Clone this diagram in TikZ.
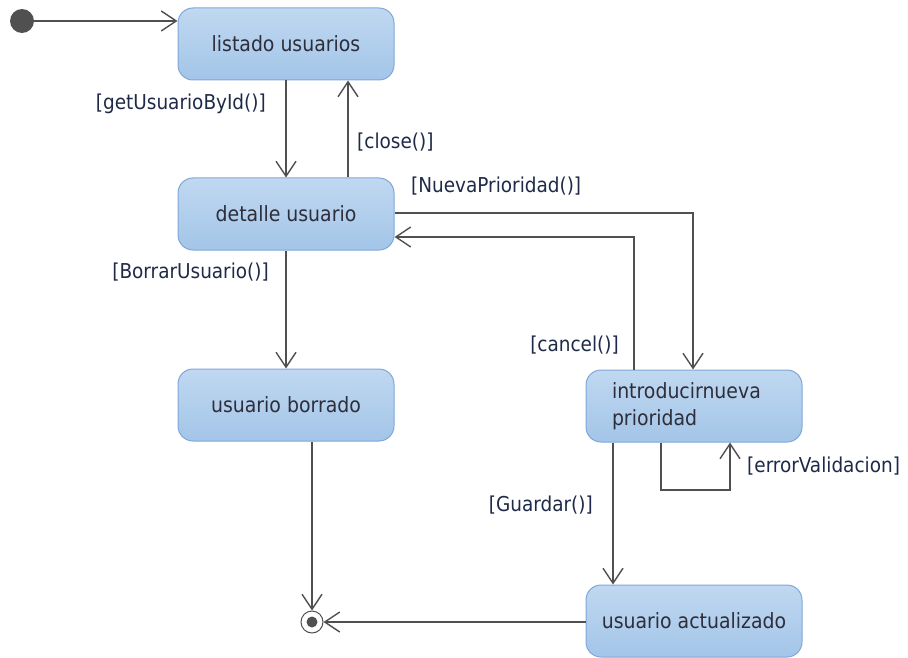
\documentclass[tikz,border=0pt]{standalone}
\usepackage{fontspec}
\setmainfont{DejaVu Sans Condensed}
\usetikzlibrary{arrows.meta}
\definecolor{boxtop}{HTML}{C0D8F1}
\definecolor{boxbot}{HTML}{A3C5E8}
\definecolor{boxline}{HTML}{7FA8D8}
\definecolor{wire}{HTML}{505050}
\definecolor{guard}{HTML}{1E2A48}
\definecolor{statetext}{HTML}{2E2E3A}
\begin{document}
\begin{tikzpicture}[x=1pt,y=-1pt,
  state/.style={draw=boxline,line width=1pt,top color=boxtop,bottom color=boxbot,
    rounded corners=15pt,minimum width=216pt,minimum height=72pt,
    text=statetext,font=\fontsize{21}{27}\selectfont,inner sep=0pt},
  trans/.style={draw=wire,line width=1.8pt,
    -{Straight Barb[length=15pt,width=20pt,line width=1.4pt]}},
  guardlbl/.style={text=guard,font=\fontsize{20.5}{24}\selectfont,inner sep=0pt}]
\useasboundingbox (0,0) rectangle (908,658);

% states
\node[state] (lis) at (286,44) {listado usuarios};
\node[state] (det) at (286,214) {detalle usuario};
\node[state] (bor) at (286,405) {usuario borrado};
\node[state,align=left,text width=164pt] (nue) at (694,406) {introducirnueva\\prioridad};
\node[state] (act) at (694,621) {usuario actualizado};

% pseudo states
\node[circle,fill=wire,minimum size=24pt,inner sep=0pt] (ini) at (22,21) {};
\node[circle,draw=wire,line width=1pt,fill=white,minimum size=22pt,inner sep=0pt] (fin) at (312,622) {};
\node[circle,fill=wire,minimum size=11pt,inner sep=0pt] (finc) at (312,622) {};

% transitions
\draw[trans] (ini) -- (lis.west |- ini);
\draw[trans] (lis.south) -- (det.north);
\draw[trans] (det.north -| 348,0) -- (lis.south -| 348,0);
\coordinate (np) at (693,213);
\draw[trans] (det.east |- np) -- (np) -- (nue.north -| np);
\coordinate (cn) at (634,237);
\draw[trans] (nue.north -| cn) -- (cn) -- (det.east |- cn);
\draw[trans] (det.south) -- (bor.north);
\draw[trans] (bor.south -| fin) -- (fin.north);
\draw[trans] (nue.south -| 613,0) -- (act.north -| 613,0);
\coordinate (e1) at (661,490);
\coordinate (e2) at (730,490);
\draw[trans] (nue.south -| e1) -- (e1) -- (e2) -- (nue.south -| e2);
\draw[trans] (act.west |- fin) -- (fin.east);

% guards
\node[guardlbl,anchor=east] (g1) at (266,104) {[getUsuarioById()]};
\node[guardlbl,anchor=west] (g2) at (357,142) {[close()]};
\node[guardlbl,anchor=west] (g3) at (411,186) {[NuevaPrioridad()]};
\node[guardlbl,anchor=east] (g4) at (269,272) {[BorrarUsuario()]};
\node[guardlbl,anchor=east] (g5) at (619,345) {[cancel()]};
\node[guardlbl,anchor=east] (g6) at (593,505) {[Guardar()]};
\node[guardlbl,anchor=west] (g7) at (747,466) {[errorValidacion]};
\end{tikzpicture}
\end{document}
